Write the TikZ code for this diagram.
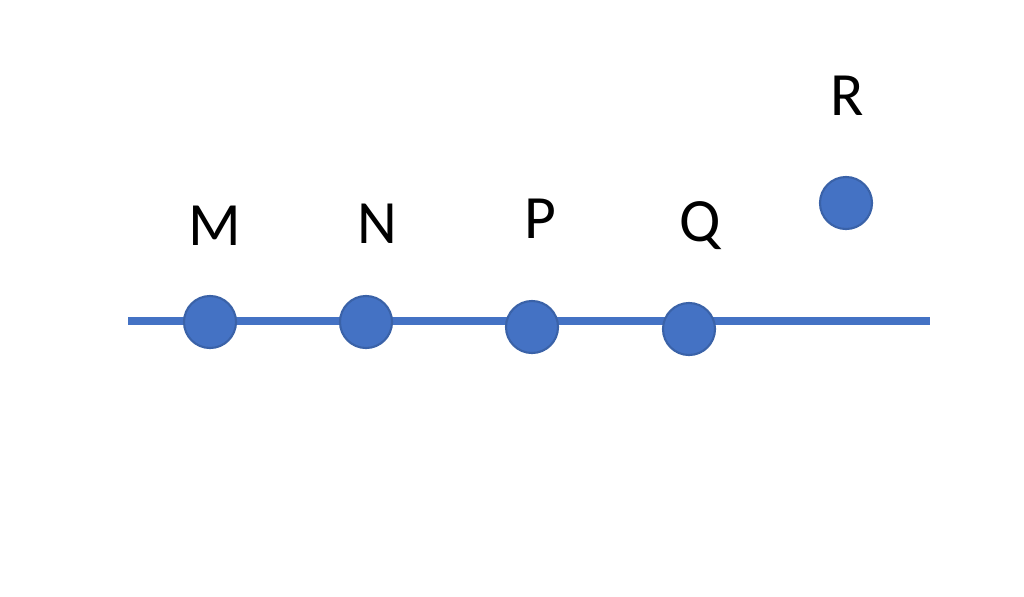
\documentclass[tikz,border=0pt]{standalone}
\usepackage{fontspec}
\setmainfont{Carlito}
\definecolor{dotblue}{HTML}{4472C4}
\definecolor{dotedge}{HTML}{3A62A8}
\tikzset{
  dot/.style={circle,fill=dotblue,draw=dotedge,line width=0.6pt,minimum size=0.52cm,inner sep=0pt},
  lbl/.style={anchor=base,inner sep=0pt,font=\fontsize{17.5}{20}\selectfont}
}
\begin{document}
\begin{tikzpicture}[x=0.01cm,y=-0.01cm]
    \useasboundingbox (0,0) rectangle (1024,596);
    % line, drawn first so the dots sit on it
    \coordinate (start) at (128,321);
    \coordinate (end) at (930,321);
    \draw[color=dotblue,line width=2.4pt] (start) -- (end);

    \node[dot] (m) at (210,322) {};
    \node[dot] (n) at (366,322) {};
    \node[dot] (p) at (532,327) {};
    \node[dot] (q) at (689,329) {};
    \node[dot] (r) at (846,203) {};

    \node[lbl] (mlabel) at (215,245) {M};
    \node[lbl] (nlabel) at (377,243) {N};
    \node[lbl] (plabel) at (540,238) {P};
    \node[lbl] (qlabel) at (700,241) {Q};
    \node[lbl] (rlabel) at (847,115) {R};
\end{tikzpicture}
\end{document}
